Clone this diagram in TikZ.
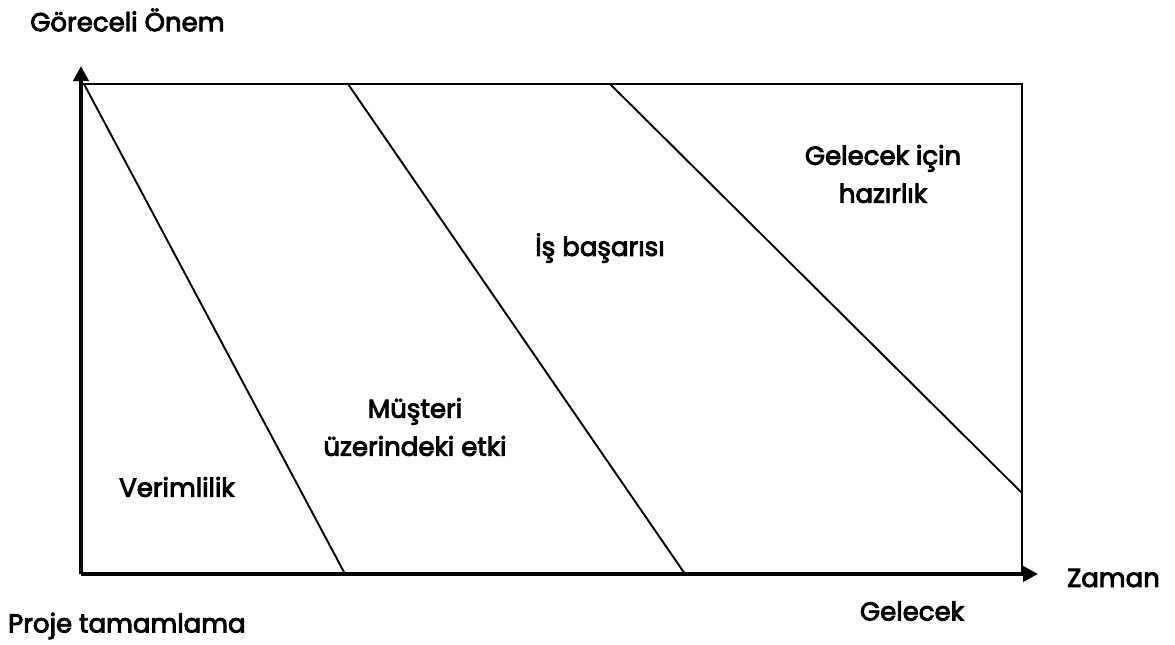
\documentclass[tikz,border=0pt]{standalone}
\usepackage{fontspec}
\setmainfont{Poppins}[FakeBold=3.5]
\usetikzlibrary{arrows.meta}
\begin{document}
\begin{tikzpicture}[x=1pt,y=-1pt,
  lbl/.style={font=\fontsize{26}{38}\selectfont, align=center, inner sep=0pt},
  axis/.style={line width=4.5pt, -{Triangle[length=15pt,width=15pt]}},
  frame/.style={line width=2pt},
  band/.style={line width=1.9pt}]
\useasboundingbox (0,0) rectangle (1175,645);
% axes
\coordinate (O) at (81,574);
\coordinate (ytip) at (81,66);
\coordinate (xtip) at (1038,574);
\coordinate (TL) at (81,84);
\coordinate (TR) at (1022,84);
\coordinate (BR) at (1022,574);
% frame
\draw[frame] (TL) -- (TR) -- (BR);
% band boundaries
\coordinate (a1) at (84,84);   \coordinate (a2) at (345,574);
\coordinate (b1) at (348,84);  \coordinate (b2) at (685,574);
\coordinate (c1) at (610,84);  \coordinate (c2) at (1022,493);
\draw[band] (a1) -- (a2);
\draw[band] (b1) -- (b2);
\draw[band] (c1) -- (c2);
\draw[axis] (O) -- (ytip);
\draw[axis] (O) -- (xtip);
% labels
\node[lbl, anchor=west] (yl) at (30,20) {Göreceli Önem};
\node[lbl, anchor=west] (xl) at (1067,578) {Zaman};
\node[lbl, anchor=west] (pt) at (8,626) {Proje tamamlama};
\node[lbl] (gl) at (912,611) {Gelecek};
\node[lbl] (r1) at (177,487) {Verimlilik};
\node[lbl] (r2) at (415,427) {Müşteri\\üzerindeki etki};
\node[lbl] (r3) at (600,248) {İş başarısı};
\node[lbl] (r4) at (883,174) {Gelecek için\\hazırlık};
\end{tikzpicture}
\end{document}
